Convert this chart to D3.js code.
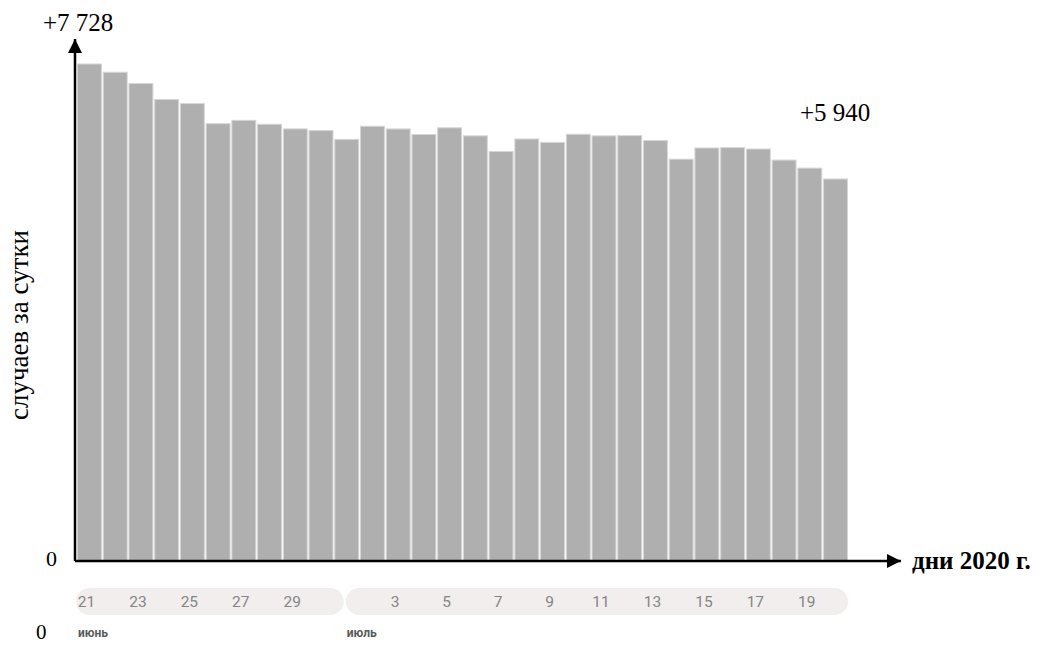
<!DOCTYPE html>
<html>
<head>
<meta charset="utf-8">
<title>Случаи за сутки</title>
<script src="https://cdnjs.cloudflare.com/ajax/libs/d3/7.8.5/d3.min.js"></script>
<style>
body { margin: 0; background: #fff; }
.serif { font-family: "Liberation Serif", "DejaVu Serif", serif; fill: #000; }
.tick-lbl { font-family: Roboto, "Noto Sans", sans-serif; font-size: 15.5px; fill: #858585; }
.month { font-family: Roboto, "Noto Sans", sans-serif; font-size: 12px; font-weight: bold; fill: #5a5a5a; }
</style>
</head>
<body>
<script>
// days: 21 June .. 20 July 2020
var days = [21, 22, 23, 24, 25, 26, 27, 28, 29, 30,
            1, 2, 3, 4, 5, 6, 7, 8, 9, 10, 11, 12, 13, 14, 15, 16, 17, 18, 19, 20];
var months = ["июнь", "июнь", "июнь", "июнь", "июнь", "июнь", "июнь", "июнь", "июнь", "июнь",
              "июль", "июль", "июль", "июль", "июль", "июль", "июль", "июль", "июль", "июль",
              "июль", "июль", "июль", "июль", "июль", "июль", "июль", "июль", "июль", "июль"];
var cases = [7728, 7600, 7425, 7176, 7113, 6800, 6852, 6791, 6719, 6693,
             6556, 6760, 6718, 6632, 6736, 6611, 6368, 6562, 6509, 6635,
             6611, 6615, 6537, 6248, 6422, 6428, 6406, 6234, 6109, 5940];
var tickDays = ["21.июнь", "23.июнь", "25.июнь", "27.июнь", "29.июнь",
                "3.июль", "5.июль", "7.июль", "9.июль", "11.июль", "13.июль", "15.июль", "17.июль", "19.июль"];

var width = 1039, height = 646;
var x0 = 77, x1 = 848, y0 = 561;

var keys = days.map(function(d, i) { return d + "." + months[i]; });

var x = d3.scaleBand()
  .domain(keys)
  .range([x0, x1])
  .paddingInner(0.07)
  .paddingOuter(0.02);

var y = d3.scaleLinear()
  .domain([0, d3.max(cases)])
  .range([y0, 64]);

var svg = d3.select("body").append("svg")
  .attr("width", width)
  .attr("height", height);

svg.append("defs").append("marker")
  .attr("id", "arrow")
  .attr("viewBox", "0 0 10 10")
  .attr("refX", 10).attr("refY", 5)
  .attr("markerWidth", 16).attr("markerHeight", 14)
  .attr("markerUnits", "userSpaceOnUse")
  .attr("orient", "auto")
  .append("path")
  .attr("d", "M0,0L10,5L0,10Z")
  .attr("fill", "#000");

// bars
svg.selectAll(".bar")
  .data(cases)
  .enter().append("rect")
  .attr("class", "bar")
  .attr("x", function(d, i) { return x(keys[i]); })
  .attr("y", function(d) { return y(d); })
  .attr("width", x.bandwidth())
  .attr("height", function(d) { return y0 - y(d); })
  .attr("fill", "#afafaf")
  .attr("stroke", "#d6d6d6")
  .attr("stroke-width", 1);

// axes with arrows
svg.append("path")
  .attr("d", "M75," + y0 + "L75,39")
  .attr("stroke", "#000").attr("stroke-width", 2.5).attr("fill", "none")
  .attr("marker-end", "url(#arrow)");
svg.append("path")
  .attr("d", "M75," + y0 + "L901," + y0)
  .attr("stroke", "#000").attr("stroke-width", 2.5).attr("fill", "none")
  .attr("marker-end", "url(#arrow)");

// value labels
svg.append("text").attr("class", "serif")
  .attr("x", 43).attr("y", 31)
  .style("font-size", "25px")
  .text("+" + d3.format(",")(cases[0]).replace(",", " "));
svg.append("text").attr("class", "serif")
  .attr("x", 800).attr("y", 121)
  .style("font-size", "25px")
  .text("+" + d3.format(",")(cases[cases.length - 1]).replace(",", " "));
svg.append("text").attr("class", "serif")
  .attr("x", 46).attr("y", 566)
  .style("font-size", "22px")
  .text("0");
svg.append("text").attr("class", "serif")
  .attr("x", 36).attr("y", 639)
  .style("font-size", "21px")
  .text("0");
svg.append("text").attr("class", "serif")
  .attr("x", 912).attr("y", 569)
  .style("font-size", "25px").style("font-weight", "bold")
  .text("дни 2020 г.");
svg.append("text").attr("class", "serif")
  .attr("transform", "translate(28,325) rotate(-90)")
  .attr("text-anchor", "middle")
  .style("font-size", "27px")
  .text("случаев за сутки");

// month pills
var july1 = keys[days.indexOf(1)];
var pills = [
  { x: x0 - 1, w: x(july1) + 9 - (x0 - 1) },
  { x: x(july1) + 11, w: x1 - (x(july1) + 11) }
];
svg.selectAll(".pill")
  .data(pills)
  .enter().append("rect")
  .attr("class", "pill")
  .attr("x", function(d) { return d.x; })
  .attr("y", 588)
  .attr("width", function(d) { return d.w; })
  .attr("height", 27)
  .attr("rx", 13.5)
  .attr("fill", "#f1eeed");

svg.selectAll(".tick-lbl")
  .data(tickDays)
  .enter().append("text")
  .attr("class", "tick-lbl")
  .attr("x", function(d) { return x(d) + x.bandwidth() / 2 - 3; })
  .attr("y", 607)
  .attr("text-anchor", "middle")
  .text(function(d) { return d.split(".")[0]; });

svg.append("text").attr("class", "month")
  .attr("x", 78).attr("y", 637).text("июнь");
svg.append("text").attr("class", "month")
  .attr("x", x(july1) + 12).attr("y", 637).text("июль");
</script>
</body>
</html>
